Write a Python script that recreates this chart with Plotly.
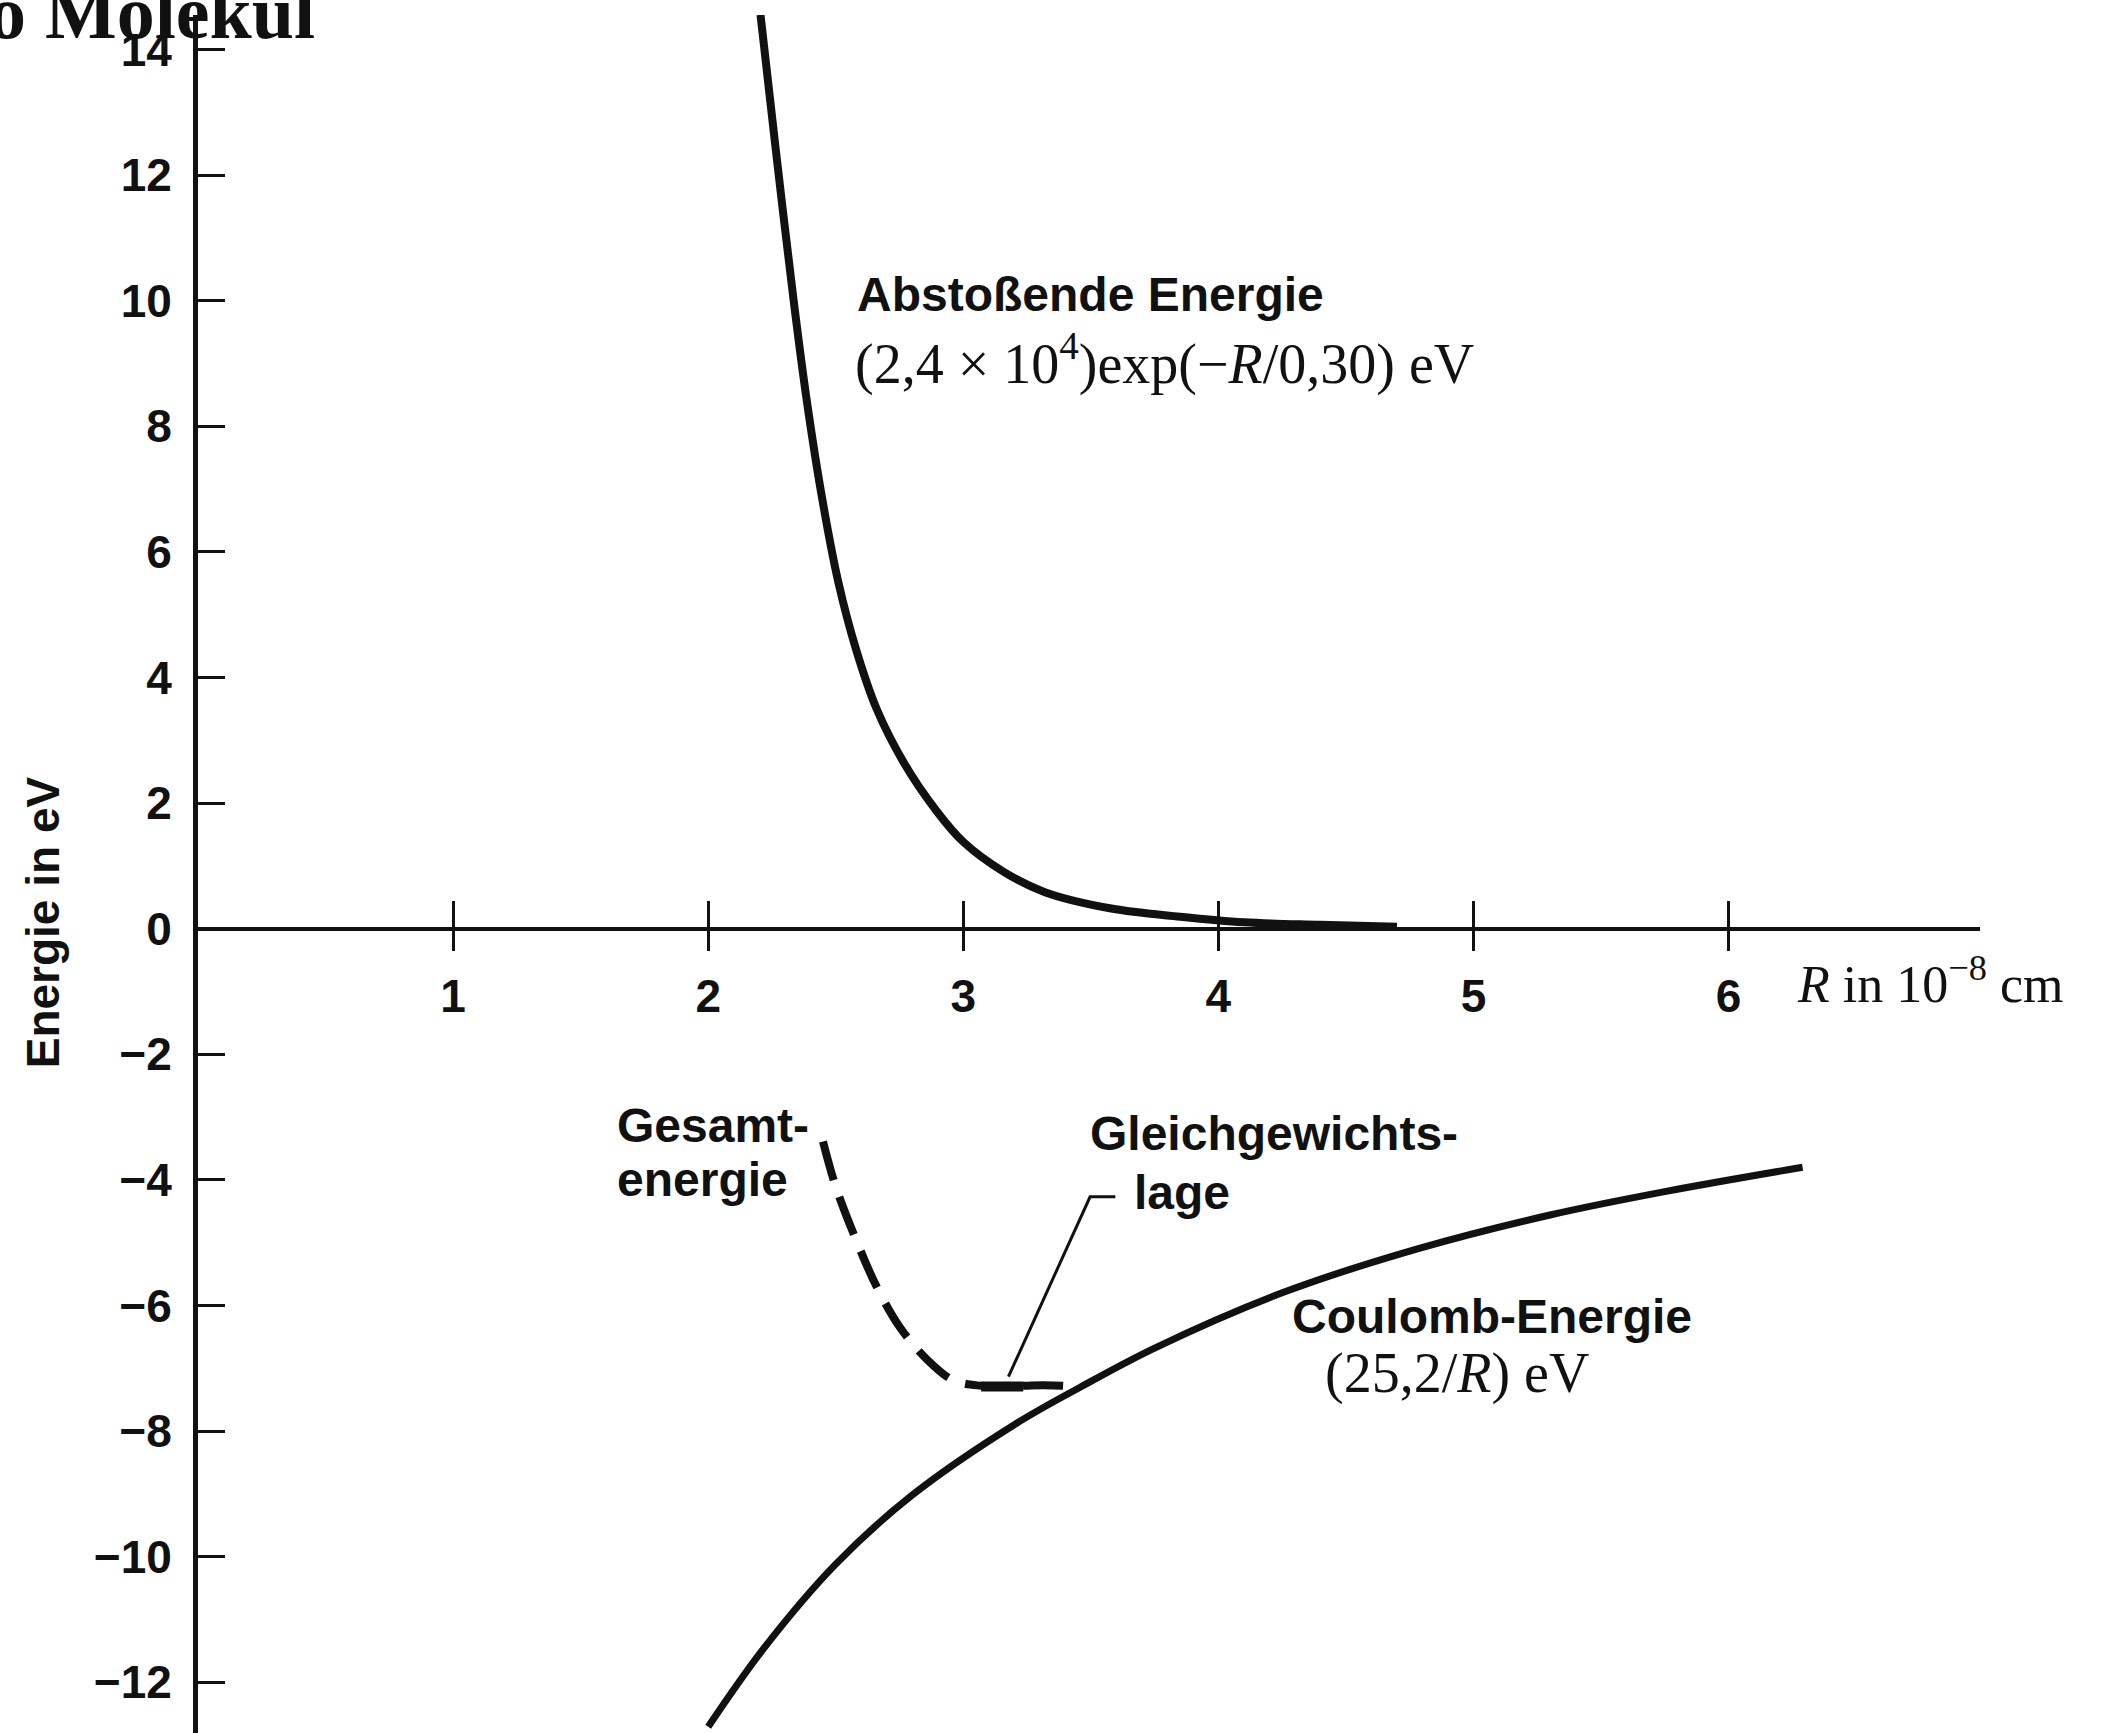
import plotly.graph_objects as go

# ---------------- data ----------------
# Repulsive energy (R in 1e-8 cm, E in eV)
rep_R = [2.205, 2.265, 2.335, 2.386, 2.448, 2.511, 2.58, 2.66, 2.77, 2.89, 3.00, 3.16, 3.32, 3.58, 3.85, 4.10, 4.40, 4.70]
rep_E = [14.55, 12.4, 10.0, 8.42, 6.82, 5.50, 4.44, 3.50, 2.62, 1.90, 1.38, 0.90, 0.58, 0.32, 0.19, 0.10, 0.06, 0.03]

# Coulomb energy
coul_R = [2.00, 2.22, 2.50, 2.80, 3.20, 3.46, 3.75, 4.25, 4.78, 5.30, 5.76, 6.29]
coul_E = [-12.71, -11.45, -10.12, -9.02, -7.90, -7.30, -6.68, -5.80, -5.10, -4.56, -4.18, -3.80]

# Total energy (dashed)
tot_R = [2.45, 2.50, 2.58, 2.66, 2.75, 2.86, 2.96, 3.07, 3.15, 3.24, 3.31, 3.40, 3.46]
tot_E = [-3.39, -4.11, -4.96, -5.70, -6.34, -6.87, -7.19, -7.28, -7.29, -7.28, -7.27, -7.28, -7.30]

# Equilibrium marker and its leader line
eq_R = [3.07, 3.235]
eq_E = [-7.29, -7.29]
lead_R = [3.177, 3.497, 3.596]
lead_E = [-7.135, -4.27, -4.27]

# Axis ticks
x_ticks = [1, 2, 3, 4, 5, 6]
x_labels = ["1", "2", "3", "4", "5", "6"]
y_ticks = [14, 12, 10, 8, 6, 4, 2, 0, -2, -4, -6, -8, -10, -12]
y_labels = ["14", "12", "10", "8", "6", "4", "2", "0", "\u22122", "\u22124", "\u22126", "\u22128", "\u221210", "\u221212"]

# ---------------- figure ----------------
SANS = "Liberation Sans, Arial, sans-serif"
SERIF = "Liberation Serif, Times New Roman, serif"
INK = "#111111"

fig = go.Figure()

fig.add_trace(go.Scatter(x=rep_R, y=rep_E, mode="lines",
                         line=dict(color=INK, width=8, shape="spline", smoothing=1.0),
                         hoverinfo="skip"))
fig.add_trace(go.Scatter(x=coul_R, y=coul_E, mode="lines",
                         line=dict(color=INK, width=7, shape="spline", smoothing=1.0),
                         hoverinfo="skip"))
fig.add_trace(go.Scatter(x=tot_R, y=tot_E, mode="lines",
                         line=dict(color=INK, width=8, dash="40px,18px", shape="spline", smoothing=1.0),
                         hoverinfo="skip"))
fig.add_trace(go.Scatter(x=eq_R, y=eq_E, mode="lines",
                         line=dict(color=INK, width=10), hoverinfo="skip"))
fig.add_trace(go.Scatter(x=lead_R, y=lead_E, mode="lines", xaxis="x2",
                         line=dict(color=INK, width=3), hoverinfo="skip"))

x_pos = 12.809 / (14.548 + 12.809)

fig.update_layout(
    width=2101, height=1733, autosize=False,
    margin=dict(l=198, r=121, t=15, b=0, pad=0),
    paper_bgcolor="white", plot_bgcolor="white",
    showlegend=False,
    xaxis=dict(range=[0, 6.9855], anchor="free", position=x_pos,
               showline=True, linecolor=INK, linewidth=4,
               ticks="outside", ticklen=20, tickwidth=3, tickcolor=INK,
               tickvals=x_ticks, ticktext=x_labels,
               tickfont=dict(family=SANS, size=46, color=INK, weight="bold"),
               ticklabelstandoff=6,
               showgrid=False, zeroline=False),
    xaxis2=dict(overlaying="x", matches="x", anchor="free", position=x_pos,
                showline=False, ticks="inside", ticklen=28, tickwidth=3, tickcolor=INK,
                tickvals=x_ticks, showticklabels=False,
                showgrid=False, zeroline=False),
    yaxis=dict(range=[-12.809, 14.548],
               showline=True, linecolor=INK, linewidth=5,
               ticks="inside", ticklen=27, tickwidth=3, tickcolor=INK,
               tickvals=y_ticks, ticktext=y_labels,
               tickfont=dict(family=SANS, size=46, color=INK, weight="bold"),
               ticklabelstandoff=12,
               showgrid=False, zeroline=False),
)

def txt(x, y, text, family, size, bold=False, xanchor="left", **kw):
    fig.add_annotation(x=x, y=y, xref="x", yref="y", text=text, showarrow=False,
                       xanchor=xanchor, yanchor="middle", align="left",
                       font=dict(family=family, size=size, color=INK,
                                 weight="bold" if bold else "normal"), **kw)

# Title fragment at the top-left (cut by the page edge)
fig.add_annotation(x=0.0668, y=1.0017, xref="paper", yref="paper", text="o Molekül",
                   showarrow=False, xanchor="right", yanchor="middle",
                   font=dict(family=SERIF, size=76, color=INK, weight="bold"))

# Curve labels
txt(2.576, 10.09, "Abstoßende Energie", SANS, 48, bold=True)
txt(2.568, 9.05, "(2,4 × 10<sup>4</sup>)exp(\u2212<i>R</i>/0,30) eV", SERIF, 56)
txt(1.635, -3.14, "Gesamt-", SANS, 48, bold=True)
txt(1.635, -4.00, "energie", SANS, 48, bold=True)
txt(3.490, -3.255, "Gleichgewichts-", SANS, 48, bold=True)
txt(3.662, -4.21, "lage", SANS, 48, bold=True)
txt(4.281, -6.17, "Coulomb-Energie", SANS, 48, bold=True)
txt(4.411, -7.09, "(25,2/<i>R</i>) eV", SERIF, 56)

# Axis labels
txt(6.261, -0.82, "<i>R</i> in 10<sup>\u22128</sup> cm", SERIF, 52)
fig.add_annotation(x=-0.087, xref="paper", y=0.1, yref="y", text="Energie in eV",
                   showarrow=False, textangle=-90, xanchor="center", yanchor="middle",
                   font=dict(family=SANS, size=46, color=INK, weight="bold"))

fig.write_html("out.html", config={"displayModeBar": False})
